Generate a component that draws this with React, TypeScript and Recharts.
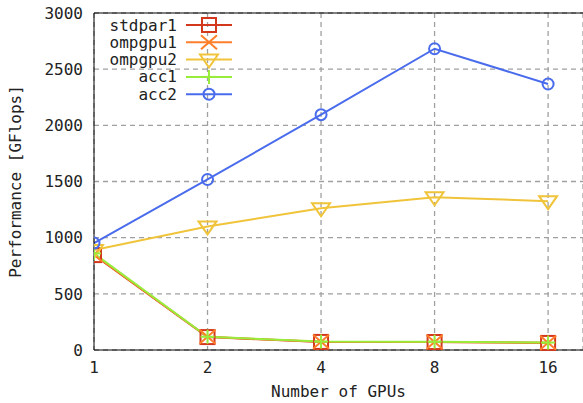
import React from "react";
import { LineChart, Line, XAxis, YAxis, CartesianGrid, ReferenceLine, Customized } from "recharts";

const gpus = [1, 2, 4, 8, 16];
const stdpar1 = [845, 115, 72, 71, 63];
const ompgpu1 = [850, 117, 73, 72, 64];
const ompgpu2 = [890, 1100, 1262, 1360, 1325];
const acc1 = [860, 118, 75, 74, 66];
const acc2 = [952, 1518, 2095, 2682, 2368];
const yTicks = [0, 500, 1000, 1500, 2000, 2500, 3000];

const seriesNames = ["stdpar1", "ompgpu1", "ompgpu2", "acc1", "acc2"];
const seriesColors = ["#d4381c", "#ff7f2a", "#f0c43a", "#98ec3c", "#4a6cec"];
const seriesShapes = ["square", "cross", "triangle", "plus", "circle"];

const data = gpus.map((g, i) => ({
  gpus: g,
  stdpar1: stdpar1[i],
  ompgpu1: ompgpu1[i],
  ompgpu2: ompgpu2[i],
  acc1: acc1[i],
  acc2: acc2[i],
}));

const FONT = "'DejaVu Sans Mono', monospace";

function Marker({ cx, cy, shape, color }: { cx: number; cy: number; shape: string; color: string }) {
  if (cx == null || cy == null) return null;
  const sw = 2;
  if (shape === "square")
    return <rect x={cx - 7} y={cy - 7} width={14} height={14} fill="none" stroke={color} strokeWidth={sw} />;
  if (shape === "cross")
    return (
      <g stroke={color} strokeWidth={sw}>
        <line x1={cx - 8} y1={cy - 7} x2={cx + 8} y2={cy + 7} />
        <line x1={cx - 8} y1={cy + 7} x2={cx + 8} y2={cy - 7} />
      </g>
    );
  if (shape === "triangle")
    return (
      <polygon
        points={`${cx - 9},${cy - 5} ${cx + 9},${cy - 5} ${cx},${cy + 8}`}
        fill="none"
        stroke={color}
        strokeWidth={sw}
      />
    );
  if (shape === "plus")
    return (
      <g stroke={color} strokeWidth={sw}>
        <line x1={cx - 7} y1={cy} x2={cx + 7} y2={cy} />
        <line x1={cx} y1={cy - 7} x2={cx} y2={cy + 7} />
      </g>
    );
  return <circle cx={cx} cy={cy} r={5.5} fill="none" stroke={color} strokeWidth={sw} />;
}

function KeyBox() {
  return (
    <g>
      {seriesNames.map((n, i) => {
        const y = 25 + i * 17.3;
        return (
          <g key={n}>
            <text x={177} y={y} textAnchor="end" dominantBaseline="central" fontFamily={FONT} fontSize={16} fill="#222">
              {n}
            </text>
            <line x1={186} y1={y} x2={232} y2={y} stroke={seriesColors[i]} strokeWidth={2} />
            <Marker cx={209} cy={y} shape={seriesShapes[i]} color={seriesColors[i]} />
          </g>
        );
      })}
    </g>
  );
}

export default function App() {
  return (
    <div style={{ position: "absolute", left: 0, top: 0, background: "#fff" }}>
      <LineChart width={583} height={403} data={data} margin={{ top: 13, right: 0, left: 0, bottom: 0 }}>
        <CartesianGrid stroke="#a0a0a0" strokeWidth={1.3} strokeDasharray="5 4" />
        <XAxis
          dataKey="gpus"
          type="number"
          scale="log"
          domain={[1, 19.8]}
          ticks={gpus}
          allowDataOverflow
          height={53}
          stroke="#000"
          tickLine={false}
          tickSize={0}
          tickMargin={12}
          tick={{ fontFamily: FONT, fontSize: 16, fill: "#222" }}
          label={{
            content: (p: any) => {
              const vb = p.viewBox;
              return (
                <text
                  x={vb.x + vb.width / 2}
                  y={391}
                  textAnchor="middle"
                  dominantBaseline="central"
                  fontFamily={FONT}
                  fontSize={16}
                  fill="#222"
                >
                  Number of GPUs
                </text>
              );
            },
          }}
        />
        <YAxis
          type="number"
          domain={[0, 3000]}
          ticks={yTicks}
          width={94}
          stroke="#000"
          tickLine={false}
          tickSize={0}
          tickMargin={11}
          tick={{ fontFamily: FONT, fontSize: 16, fill: "#222" }}
          label={{
            content: (p: any) => {
              const vb = p.viewBox;
              const cy = vb.y + vb.height / 2;
              return (
                <text
                  x={15}
                  y={cy}
                  transform={`rotate(-90 15 ${cy})`}
                  textAnchor="middle"
                  dominantBaseline="central"
                  fontFamily={FONT}
                  fontSize={16}
                  fill="#222"
                >
                  Performance [GFlops]
                </text>
              );
            },
          }}
        />
        <ReferenceLine y={3000} stroke="#000" strokeWidth={1} />
        {seriesNames.map((n, i) => (
          <Line
            key={n}
            dataKey={n}
            stroke={seriesColors[i]}
            strokeWidth={2}
            isAnimationActive={false}
            dot={(p: any) => (
              <Marker key={`${n}-${p.index}`} cx={p.cx} cy={p.cy} shape={seriesShapes[i]} color={seriesColors[i]} />
            )}
            activeDot={false}
          />
        ))}
        <Customized component={KeyBox} />
      </LineChart>
    </div>
  );
}
